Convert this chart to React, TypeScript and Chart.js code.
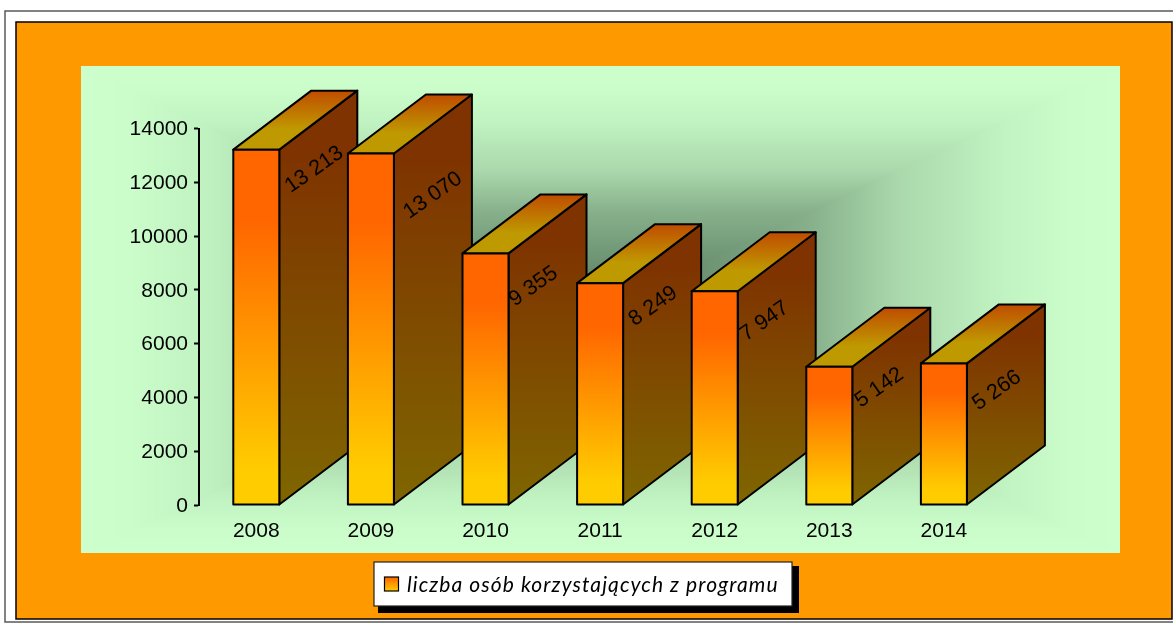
import React, { useEffect, useRef } from "react";
import { Chart, registerables } from "chart.js";

Chart.register(...registerables);

const years = ["2008", "2009", "2010", "2011", "2012", "2013", "2014"];
const participants = [13213, 13070, 9355, 8249, 7947, 5142, 5266];
const valueLabels = ["13 213", "13 070", "9 355", "8 249", "7 947", "5 142", "5 266"];
const seriesName = "liczba osób korzystających z programu";

const SANS = '"Liberation Sans", Arial, sans-serif';
const DEPTH_X = 78;
const DEPTH_Y = -59;
const labelNudgeX = [58, 62, 48, 53, 50, 50, 53];
const labelNudgeY = [20, 42, 33, 23, 30, 21, 27];

const stopsT = [0, 0.16, 0.4, 0.57, 0.78, 0.9, 1];
const stopsL = [0, 0.03, 0.32, 0.67, 0.9, 0.98, 1];

function lightness(t: number) {
  for (let i = 1; i < stopsT.length; i++) {
    if (t <= stopsT[i]) {
      const f = (t - stopsT[i - 1]) / (stopsT[i] - stopsT[i - 1]);
      return stopsL[i - 1] + f * (stopsL[i] - stopsL[i - 1]);
    }
  }
  return 1;
}

function makeWall(w: number, h: number) {
  const c = document.createElement("canvas");
  c.width = w;
  c.height = h;
  const g = c.getContext("2d")!;
  const img = g.createImageData(w, h);
  const dark = [0x65, 0x8a, 0x6b];
  const light = [0xcc, 0xff, 0xcc];
  for (let y = 0; y < h; y++) {
    for (let x = 0; x < w; x++) {
      const t = Math.max(Math.abs(x - w / 2) / (w / 2), Math.abs(y - h / 2) / (h / 2));
      const l = lightness(t);
      const p = (y * w + x) * 4;
      img.data[p] = dark[0] + (light[0] - dark[0]) * l;
      img.data[p + 1] = dark[1] + (light[1] - dark[1]) * l;
      img.data[p + 2] = dark[2] + (light[2] - dark[2]) * l;
      img.data[p + 3] = 255;
    }
  }
  g.putImageData(img, 0, 0);
  return c;
}

const framePlugin = {
  id: "frame",
  beforeDraw(chart: any) {
    const ctx = chart.ctx as CanvasRenderingContext2D;
    ctx.save();
    ctx.fillStyle = "#ffffff";
    ctx.fillRect(0, 0, 1173, 624);
    ctx.strokeStyle = "#5a5a5a";
    ctx.lineWidth = 1.5;
    ctx.strokeRect(5, 11, 1175, 611);
    ctx.fillStyle = "#ff9900";
    ctx.fillRect(16, 22, 1156, 597);
    ctx.strokeStyle = "#000000";
    ctx.lineWidth = 1.5;
    ctx.strokeRect(16, 22, 1156, 597);
    ctx.drawImage(makeWall(1039, 487), 81, 66);
    ctx.restore();
  },
};

function poly(ctx: CanvasRenderingContext2D, pts: number[][], fill: any) {
  ctx.beginPath();
  pts.forEach((p, i) => (i ? ctx.lineTo(p[0], p[1]) : ctx.moveTo(p[0], p[1])));
  ctx.closePath();
  ctx.fillStyle = fill;
  ctx.fill();
  ctx.stroke();
}

function vGrad(ctx: CanvasRenderingContext2D, y0: number, y1: number, stops: [number, string][]) {
  const g = ctx.createLinearGradient(0, y0, 0, y1);
  stops.forEach(([o, c]) => g.addColorStop(o, c));
  return g;
}

const boxPlugin = {
  id: "boxes",
  afterDatasetsDraw(chart: any) {
    const ctx = chart.ctx as CanvasRenderingContext2D;
    const meta = chart.getDatasetMeta(0);
    ctx.save();
    ctx.lineJoin = "round";
    meta.data.forEach((bar: any, i: number) => {
      const l = bar.x - bar.width / 2;
      const r = bar.x + bar.width / 2;
      const t = bar.y;
      const b = bar.base;
      ctx.strokeStyle = "#000000";
      ctx.lineWidth = 2;
      poly(
        ctx,
        [[r, t], [r + DEPTH_X, t + DEPTH_Y], [r + DEPTH_X, b + DEPTH_Y], [r, b]],
        vGrad(ctx, t + DEPTH_Y, b, [[0, "#7f3300"], [0.15, "#7f3300"], [1, "#7f6600"]])
      );
      poly(
        ctx,
        [[l, t], [l + DEPTH_X, t + DEPTH_Y], [r + DEPTH_X, t + DEPTH_Y], [r, t]],
        vGrad(ctx, t + DEPTH_Y, t, [[0, "#bf4c00"], [0.65, "#bf9900"], [1, "#bf9900"]])
      );
      poly(
        ctx,
        [[l, t], [r, t], [r, b], [l, b]],
        vGrad(ctx, t, b, [[0, "#ff6600"], [0.2, "#ff6600"], [0.9, "#ffcc00"], [1, "#ffcc00"]])
      );
      ctx.save();
      ctx.translate(bar.x + labelNudgeX[i], t + labelNudgeY[i]);
      ctx.rotate((-35 * Math.PI) / 180);
      ctx.font = `21.5px ${SANS}`;
      ctx.fillStyle = "#000000";
      ctx.textAlign = "center";
      ctx.textBaseline = "middle";
      ctx.fillText(valueLabels[i], 0, 0);
      ctx.restore();
    });
    ctx.restore();
  },
  afterDraw(chart: any) {
    const ctx = chart.ctx as CanvasRenderingContext2D;
    ctx.save();
    ctx.fillStyle = "#000000";
    ctx.fillRect(378, 566, 421, 47);
    ctx.fillStyle = "#ffffff";
    ctx.strokeStyle = "#222222";
    ctx.lineWidth = 1.2;
    ctx.fillRect(374, 562, 418, 44);
    ctx.strokeRect(374, 562, 418, 44);
    ctx.strokeStyle = "#000000";
    ctx.lineWidth = 1.2;
    ctx.fillStyle = vGrad(ctx, 577, 591, [[0, "#ff6600"], [1, "#ffcc00"]]);
    ctx.fillRect(384.5, 577, 14, 14);
    ctx.strokeRect(384.5, 577, 14, 14);
    ctx.fillStyle = "#000000";
    ctx.font = 'italic 21px "Lato", sans-serif';
    ctx.textAlign = "left";
    ctx.textBaseline = "middle";
    (ctx as any).letterSpacing = "1.08px";
    ctx.fillText(seriesName, 407, 585);
    ctx.restore();
  },
};

export default function App() {
  const ref = useRef<HTMLCanvasElement>(null);
  useEffect(() => {
    const chart = new Chart(ref.current!, {
      type: "bar",
      data: {
        labels: years,
        datasets: [
          {
            label: seriesName,
            data: participants,
            backgroundColor: "rgba(0,0,0,0)",
            barThickness: 46,
          },
        ],
      },
      options: {
        responsive: false,
        animation: false,
        layout: { padding: { top: 128.5, right: 171.8, bottom: 0, left: 0 } },
        plugins: { legend: { display: false }, tooltip: { enabled: false } },
        scales: {
          x: {
            afterFit(s: any) {
              s.height = 119;
            },
            grid: { display: false },
            border: { display: false },
            ticks: {
              color: "#000000",
              font: { family: SANS, size: 21 },
              padding: 6,
              maxRotation: 0,
              autoSkip: false,
            },
          },
          y: {
            min: 0,
            max: 14000,
            afterFit(s: any) {
              s.width = 199;
            },
            grid: {
              drawOnChartArea: false,
              drawTicks: true,
              tickLength: 5,
              tickWidth: 2,
              tickColor: "#000000",
            },
            border: { display: true, color: "#000000", width: 2 },
            ticks: {
              stepSize: 2000,
              color: "#000000",
              font: { family: SANS, size: 21 },
              padding: 6,
              labelOffset: 1,
              callback: (v: any) => String(v),
            },
          },
        },
      },
      plugins: [framePlugin, boxPlugin],
    } as any);
    return () => chart.destroy();
  }, []);
  return (
    <div style={{ position: "absolute", left: 0, top: 0, width: 1173, height: 624 }}>
      <canvas ref={ref} width={1173} height={624} style={{ display: "block" }} />
    </div>
  );
}
